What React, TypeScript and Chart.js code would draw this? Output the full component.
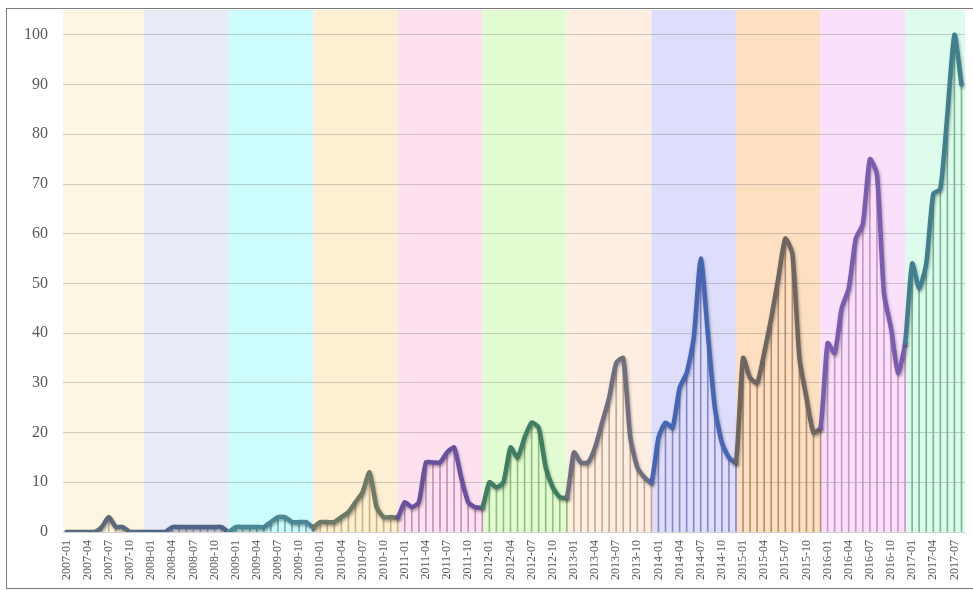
import React, { useEffect, useRef } from "react";
import { Chart, registerables } from "chart.js";

Chart.register(...registerables);

// ---- data ----
const YEARS = [2007, 2008, 2009, 2010, 2011, 2012, 2013, 2014, 2015, 2016, 2017];

const V2007 = [0, 0, 0, 0, 0, 1, 3, 1, 1, 0, 0, 0];
const V2008 = [0, 0, 0, 1, 1, 1, 1, 1, 1, 1, 1, 0];
const V2009 = [1, 1, 1, 1, 1, 2, 3, 3, 2, 2, 2, 1];
const V2010 = [2, 2, 2, 3, 4, 6, 8, 12, 5, 3, 3, 3];
const V2011 = [6, 5, 6, 14, 14, 14, 16, 17, 11, 6, 5, 5];
const V2012 = [10, 9, 10, 17, 15, 19, 22, 21, 13, 9, 7, 7];
const V2013 = [16, 14, 14, 17, 22, 27, 34, 35, 19, 13, 11, 10];
const V2014 = [19, 22, 21, 29, 32, 39, 55, 40, 25, 18, 15, 14];
const V2015 = [35, 31, 30, 36, 43, 51, 59, 56, 35, 27, 20, 21];
const V2016 = [38, 36, 45, 49, 59, 62, 75, 72, 48, 41, 32, 38];
const V2017 = [54, 49, 54, 68, 69, 84, 100, 90];

const VALUES = [
  ...V2007, ...V2008, ...V2009, ...V2010, ...V2011, ...V2012,
  ...V2013, ...V2014, ...V2015, ...V2016, ...V2017,
];

const MONTHS = VALUES.map(
  (_, i) => `${YEARS[0] + Math.floor(i / 12)}-${String((i % 12) + 1).padStart(2, "0")}`
);

const Y_MAX_TICK = 100;
const Y_STEP = 10;

// ---- styles ----
const BAND_COLORS = [
  "#fdf6e1", "#e9ecf6", "#cdfcfc", "#fdf0d2", "#fde1ef", "#e2fcd2",
  "#fdeee1", "#dedefc", "#fde0c2", "#fbe0fc", "#ddfcec",
];
const DROP_COLORS = [
  "#c8b890", "#9aa4c0", "#70b0b8", "#d0b080", "#c890b8", "#90c080",
  "#c8a890", "#8888c8", "#b89070", "#c898c8", "#78b898",
];
const LINE_COLORS = [
  "#5a6a7c", "#4f6488", "#4a8898", "#6e7a66", "#6a50a0", "#3e7f62",
  "#6f6f80", "#4565b5", "#6e6660", "#7a5cb0", "#3f7f8f",
];

const yearIdx = (i: number) => Math.floor(i / 12);

const bandPlugin = {
  id: "yearBands",
  beforeDraw(chart: any) {
    const { ctx, chartArea: a, scales } = chart;
    const x = scales.x;
    ctx.save();
    YEARS.forEach((_, k) => {
      const l = k === 0 ? a.left : x.getPixelForValue(12 * k - 1);
      const r = k === YEARS.length - 1 ? a.right : x.getPixelForValue(12 * k + 11);
      ctx.fillStyle = BAND_COLORS[k];
      ctx.fillRect(l, a.top, r - l, a.bottom - a.top);
    });
    ctx.restore();
  },
};

const shadowPlugin = {
  id: "lineShadow",
  beforeDatasetDraw(chart: any, args: any) {
    if (args.meta.type === "line") {
      const ctx = chart.ctx;
      ctx.save();
      ctx.shadowColor = "rgba(0,0,0,0.35)";
      ctx.shadowBlur = 3;
      ctx.shadowOffsetX = 1;
      ctx.shadowOffsetY = 2;
    }
  },
  afterDatasetDraw(chart: any, args: any) {
    if (args.meta.type === "line") chart.ctx.restore();
  },
};

const FONT = "'Liberation Serif', 'DejaVu Serif', serif";

export default function App() {
  const ref = useRef<HTMLCanvasElement | null>(null);

  useEffect(() => {
    if (!ref.current) return;
    const chart = new Chart(ref.current, {
      type: "bar",
      data: {
        labels: MONTHS,
        datasets: [
          {
            type: "line",
            data: VALUES,
            borderWidth: 4.5,
            pointRadius: 0,
            tension: 0.2,
            borderJoinStyle: "round",
            borderCapStyle: "round",
            borderColor: LINE_COLORS[0],
            segment: {
              borderColor: (c: any) => LINE_COLORS[yearIdx(c.p1DataIndex)],
            },
            order: 0,
          } as any,
          {
            type: "bar",
            data: VALUES,
            backgroundColor: VALUES.map((_, i) => DROP_COLORS[yearIdx(i)]),
            barThickness: 1,
            order: 1,
          } as any,
        ],
      },
      options: {
        animation: false,
        responsive: true,
        maintainAspectRatio: false,
        layout: { padding: { top: 10, right: 8, left: 0, bottom: 0 } },
        plugins: { legend: { display: false }, tooltip: { enabled: false } },
        scales: {
          x: {
            offset: true,
            grid: { display: false, drawTicks: false },
            border: { display: false },
            afterFit: (s: any) => {
              s.height = 58;
              s.paddingLeft = 0;
              s.paddingRight = 0;
              s.paddingTop = 0;
              s.paddingBottom = 0;
            },
            ticks: {
              autoSkip: false,
              minRotation: 90,
              maxRotation: 90,
              padding: 8,
              color: "#595959",
              font: { family: FONT, size: 12 },
              callback: function (this: any, v: any, i: number) {
                return i % 3 === 0 ? MONTHS[i] : "";
              },
            },
          },
          y: {
            min: 0,
            max: 105,
            afterBuildTicks: (s: any) => {
              s.ticks = s.ticks.filter((t: any) => t.value <= Y_MAX_TICK);
            },
            afterFit: (s: any) => {
              s.width = 63;
              s.paddingTop = 0;
              s.paddingBottom = 0;
              s.paddingLeft = 0;
              s.paddingRight = 0;
            },
            grid: { color: "rgba(120,120,120,0.35)", lineWidth: 1, drawTicks: false },
            border: { display: false },
            ticks: {
              stepSize: Y_STEP,
              padding: 15,
              color: "#595959",
              font: { family: FONT, size: 16 },
            },
          },
        },
      },
      plugins: [bandPlugin, shadowPlugin],
    });
    return () => chart.destroy();
  }, []);

  return (
    <div
      style={{
        position: "fixed",
        left: 0,
        top: 0,
        width: 973,
        height: 590,
        overflow: "hidden",
        background: "#fff",
      }}
    >
      <div style={{ position: "absolute", left: 0, top: 0, width: 973, height: 590 }}>
        <canvas ref={ref} />
      </div>
      <div
        style={{
          position: "absolute",
          left: 6,
          top: 8,
          width: 985,
          height: 579,
          border: "1px solid #7a7a7a",
          pointerEvents: "none",
        }}
      />
    </div>
  );
}
